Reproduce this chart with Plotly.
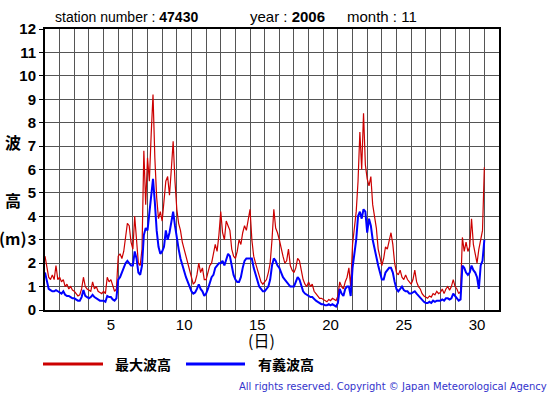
import numpy as np
import plotly.graph_objects as go

# ---- data (3-hourly readings, Nov 1 00h ... Nov 30 24h) ----
max_wave = [
    2.3, 1.8, 1.4, 1.3, 1.5, 1.3, 1.9, 1.3,      # 1
    1.4, 1.2, 1.3, 1.0, 1.1, 0.9, 1.0, 0.85,     # 2
    0.8, 0.7, 0.6, 0.65, 0.9, 1.4, 1.0, 0.9,     # 3
    0.85, 0.8, 1.2, 0.9, 1.0, 0.8, 0.75, 0.7,    # 4
    0.8, 0.7, 1.4, 1.2, 1.3, 1.0, 0.8, 0.9,      # 5
    2.3, 2.4, 2.2, 2.5, 3.0, 3.7, 3.6, 2.9,      # 6
    2.6, 4.0, 3.0, 2.0, 1.9, 2.6, 6.8, 4.5,      # 7
    6.5, 5.5, 7.5, 9.2, 6.5, 4.8, 3.9, 4.2,      # 8
    3.8, 4.6, 5.5, 5.7, 4.9, 6.0, 7.2, 5.5,      # 9
    4.3, 3.7, 3.4, 2.9, 2.6, 2.2, 1.9, 1.6,      # 10
    1.3, 1.1, 1.2, 1.5, 2.0, 1.6, 1.8, 1.3,      # 11
    1.3, 1.6, 1.9, 2.0, 2.4, 2.8, 2.5, 3.2,      # 12
    4.2, 3.3, 3.0, 3.8, 3.6, 3.4, 2.6, 2.3,      # 13
    2.2, 2.5, 3.0, 2.8, 3.3, 3.6, 3.4, 3.8,      # 14
    4.3, 3.0, 2.3, 2.0, 1.7, 1.4, 1.2, 1.1,      # 15
    1.2, 1.3, 1.6, 2.0, 3.0, 4.3, 3.5, 3.3,      # 16
    3.0, 2.6, 2.3, 2.0, 2.1, 2.6, 1.9, 1.7,      # 17
    1.6, 1.8, 2.2, 2.1, 1.7, 1.3, 1.1, 1.0,      # 18
    1.2, 1.0, 1.1, 0.8, 0.7, 0.6, 0.5, 0.5,      # 19
    0.45, 0.4, 0.35, 0.45, 0.4, 0.5, 0.45, 0.4,  # 20
    0.6, 1.2, 1.0, 0.9, 1.2, 1.4, 1.8, 1.0,      # 21
    2.8, 3.5, 4.2, 5.5, 7.6, 6.0, 8.4, 6.2,      # 22
    5.6, 5.3, 5.7, 4.5, 4.0, 3.5, 2.6, 2.2,      # 23
    1.9, 2.2, 2.7, 2.6, 3.0, 3.3, 2.8, 2.0,      # 24
    1.6, 1.5, 1.7, 1.4, 1.3, 1.5, 1.3, 1.2,      # 25
    1.1, 1.3, 1.7, 1.2, 1.0, 0.9, 0.7, 0.6,      # 26
    0.55, 0.5, 0.6, 0.55, 0.7, 0.65, 0.8, 0.7,   # 27
    0.75, 0.9, 0.7, 0.9, 1.0, 0.85, 1.0, 1.3,    # 28
    1.0, 0.9, 0.7, 0.8, 3.1, 2.5, 2.9, 2.5,      # 29
    2.7, 3.9, 2.8, 2.4, 2.0, 2.6, 3.1, 3.4,      # 30
    6.1,
]
sig_wave = [
    1.6, 1.2, 0.9, 0.85, 0.8, 0.8, 0.85, 0.8,    # 1
    0.75, 0.7, 0.8, 0.65, 0.6, 0.6, 0.55, 0.5,   # 2
    0.5, 0.45, 0.4, 0.4, 0.55, 0.85, 0.6, 0.55,  # 3
    0.5, 0.55, 0.65, 0.55, 0.5, 0.45, 0.4, 0.4,  # 4
    0.4, 0.35, 0.6, 0.55, 0.55, 0.45, 0.4, 0.5,  # 5
    1.3, 1.4, 1.6, 1.8, 2.0, 2.1, 2.0, 1.9,      # 6
    1.9, 2.5, 2.2, 1.6, 1.5, 1.9, 3.2, 3.5,      # 7
    3.4, 4.2, 5.0, 5.6, 4.6, 3.4, 2.7, 2.4,      # 8
    2.5, 2.7, 3.4, 3.0, 3.3, 3.8, 4.2, 3.6,      # 9
    3.0, 2.6, 2.2, 1.9, 1.7, 1.4, 1.2, 1.0,      # 10
    0.8, 0.7, 0.75, 0.9, 1.1, 0.9, 0.8, 0.6,     # 11
    0.7, 0.9, 1.2, 1.4, 1.5, 1.8, 1.9, 2.0,      # 12
    2.0, 2.1, 1.9, 2.2, 2.4, 2.3, 1.8, 1.5,      # 13
    1.3, 1.2, 1.2, 1.4, 1.8, 2.1, 2.2, 2.2,      # 14
    2.2, 2.2, 1.8, 1.5, 1.2, 1.0, 0.9, 0.8,      # 15
    0.8, 0.9, 1.0, 1.3, 1.9, 2.2, 2.1, 1.9,      # 16
    1.8, 1.6, 1.4, 1.3, 1.2, 1.1, 1.0, 1.0,      # 17
    1.0, 1.2, 1.4, 1.3, 1.0, 0.8, 0.7, 0.65,     # 18
    0.6, 0.55, 0.55, 0.45, 0.4, 0.35, 0.3, 0.25, # 19
    0.25, 0.2, 0.2, 0.25, 0.2, 0.25, 0.2, 0.15,  # 20
    0.3, 0.9, 0.7, 0.6, 0.9, 1.0, 1.0, 0.6,      # 21
    1.8, 2.5, 3.0, 4.0, 4.2, 3.9, 4.3, 4.2,      # 22
    3.3, 3.9, 3.6, 3.0, 2.6, 2.3, 1.9, 1.6,      # 23
    1.3, 1.3, 1.6, 1.7, 1.8, 1.8, 1.6, 1.2,      # 24
    0.9, 0.8, 0.9, 1.0, 0.85, 0.8, 0.8, 0.7,     # 25
    0.7, 0.75, 0.8, 0.7, 0.6, 0.5, 0.4, 0.35,    # 26
    0.3, 0.3, 0.35, 0.3, 0.4, 0.35, 0.4, 0.4,    # 27
    0.4, 0.45, 0.4, 0.5, 0.5, 0.45, 0.5, 0.7,    # 28
    0.6, 0.5, 0.4, 0.45, 1.9, 1.8, 1.6, 1.5,     # 29
    1.6, 1.9, 1.7, 1.6, 1.4, 0.9, 1.9, 2.1,      # 30
    3.0,
]
day_ticks = [5, 10, 15, 20, 25, 30]
y_ticks = list(range(0, 13))
station = "47430"
year = "2006"
month = "11"

# elapsed days since the 1st 00h (3-hour steps)
t = np.arange(len(max_wave)) * 3 / 24.0

W, H = 555, 395
# plot area in window pixels: x 45..499, y 29..310
PL, PR, PT, PB = 45, 499, 29, 310
L, R, T, B = PL, W - PR, PT, H - PB
PW, PH = PR - PL, PB - PT


def px(x):
    return (x - PL) / PW


def py(y):
    return (PB - y) / PH


fig = go.Figure()
fig.add_trace(go.Scatter(x=t, y=max_wave, mode="lines", name="最大波高",
                         line=dict(color="#cc0000", width=1.2)))
fig.add_trace(go.Scatter(x=t, y=sig_wave, mode="lines", name="有義波高",
                         line=dict(color="#0000ff", width=2)))

grid = "#555555"
fig.update_layout(
    width=W, height=H, autosize=False,
    margin=dict(l=L, r=R, t=T, b=B, pad=0),
    paper_bgcolor="white", plot_bgcolor="white",
    showlegend=False,
    font=dict(family="Liberation Sans, Arial, sans-serif", color="black"),
    xaxis=dict(
        range=[0, 31], tickvals=[d - 0.5 for d in day_ticks],
        ticktext=[str(d) for d in day_ticks], showgrid=False,
        ticks="", tickfont=dict(size=15), zeroline=False,
        showline=True, linecolor="black", linewidth=2, mirror=True,
        minor=dict(dtick=1, tick0=0, showgrid=True, gridcolor=grid, gridwidth=1, ticks=""),
    ),
    yaxis=dict(
        range=[0, 12], tickvals=y_ticks, showgrid=True, gridcolor=grid, gridwidth=1,
        ticks="outside", ticklen=4, tickcolor="black", tickwidth=1,
        tickfont=dict(size=15, weight="bold"), zeroline=False,
        showline=True, linecolor="black", linewidth=2, mirror=True,
    ),
)

ann = []
tf = dict(family="Liberation Sans, Arial, sans-serif", size=14, color="black")
tf2 = dict(family="Liberation Sans, Arial, sans-serif", size=15, color="black")
ann.append(dict(text=f"station number : <b>{station}</b>", x=px(53), y=py(17),
                xanchor="left", yanchor="middle", font=tf))
ann.append(dict(text=f"year : <b>{year}</b>", x=px(248), y=py(17),
                xanchor="left", yanchor="middle", font=tf2))
ann.append(dict(text=f"month : {month}", x=px(345), y=py(17),
                xanchor="left", yanchor="middle", font=tf2))

jf = dict(family="Noto Sans CJK JP", size=16, color="black", weight="bold")
ann.append(dict(text="波", x=px(13), y=py(142), xanchor="center", yanchor="middle", font=jf))
ann.append(dict(text="高", x=px(13), y=py(200), xanchor="center", yanchor="middle", font=jf))
ann.append(dict(text="(m)", x=px(13), y=py(238), xanchor="center", yanchor="middle",
                font=dict(family="Noto Sans CJK JP", size=16, color="black", weight="bold")))
ann.append(dict(text="(日)", x=px(261), y=py(340), xanchor="center", yanchor="middle",
                font=dict(family="Noto Sans CJK JP", size=16, color="black")))

lf = dict(family="Noto Sans CJK JP", size=14, color="black", weight="bold")
ann.append(dict(text="最大波高", x=px(113), y=py(364), xanchor="left", yanchor="middle", font=lf))
ann.append(dict(text="有義波高", x=px(256), y=py(364), xanchor="left", yanchor="middle", font=lf))
ann.append(dict(text="All rights reserved. Copyright © Japan Meteorological Agency",
                x=px(549), y=py(386), xanchor="right", yanchor="middle",
                font=dict(family="DejaVu Sans", size=10, color="#3333cc")))
for a in ann:
    a.update(xref="paper", yref="paper", showarrow=False)
fig.update_layout(annotations=ann)

fig.update_layout(shapes=[
    dict(type="line", xref="paper", yref="paper", x0=px(43), x1=px(103), y0=py(364), y1=py(364),
         line=dict(color="#cc0000", width=3)),
    dict(type="line", xref="paper", yref="paper", x0=px(186), x1=px(245), y0=py(364), y1=py(364),
         line=dict(color="#0000ff", width=3)),
])

fig.write_html("out.html", config={"displayModeBar": False},
               post_script="document.body.style.margin='0';document.body.style.overflow='hidden';")
